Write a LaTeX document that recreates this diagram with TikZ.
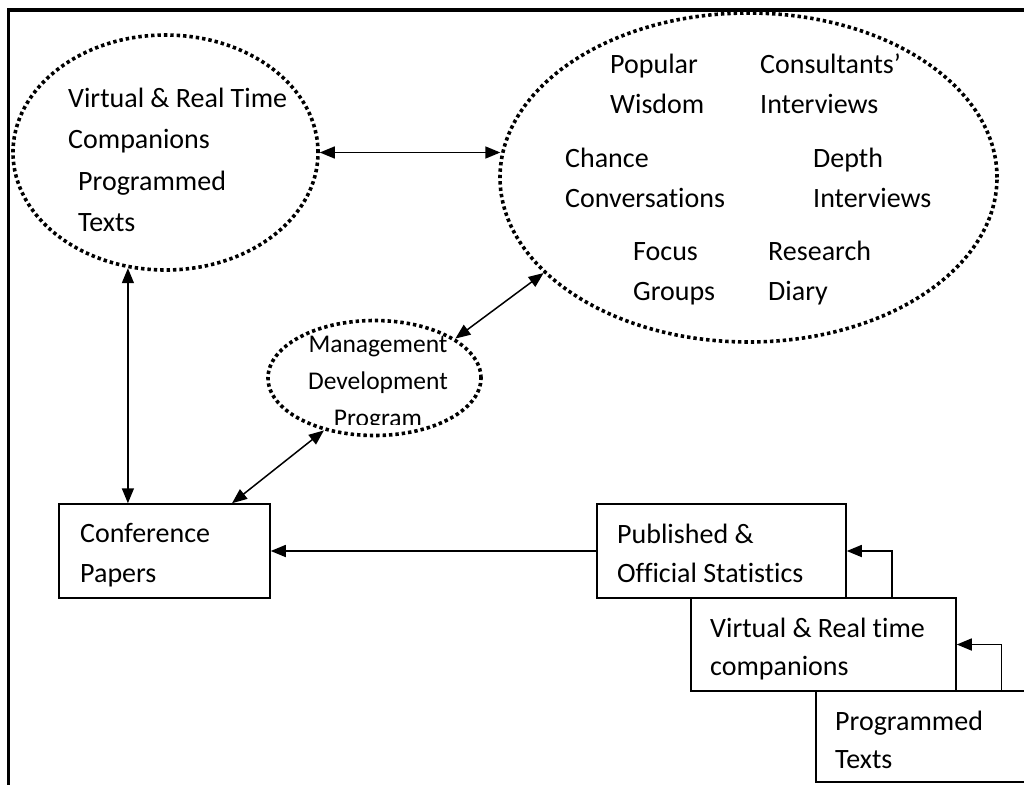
\documentclass[tikz,border=0pt]{standalone}
\usepackage{fontspec}
\setmainfont{Carlito}[Ligatures={NoCommon}]
\usetikzlibrary{shapes.geometric,arrows.meta}
\begin{document}
\begin{tikzpicture}[x=1pt,y=-1pt,
  >={Triangle[length=15pt,width=12pt]},
  dotell/.style={ellipse, draw, line width=3.6pt, dash pattern=on 3.4pt off 3pt, inner sep=0pt},
  boxnode/.style={draw, line width=1.5pt, inner sep=0pt, fill=white},
  lbl/.style={anchor=base west, inner sep=0pt, font=\fontsize{28}{34}\selectfont},
  mlbl/.style={anchor=base, inner sep=0pt, font=\fontsize{25.5}{30}\selectfont},
  conn/.style={line width=1.5pt}
]
\useasboundingbox (0,0) rectangle (1024,784);
\clip (0,0) rectangle (1024,784);
\fill[white] (0,0) rectangle (1024,784);
% outer frame
\draw[line width=3.5pt] (8.7,10) rectangle (1040,800);

% ellipses
\node[dotell, minimum width=305pt, minimum height=235pt] (e1) at (165.5,152.5) {};
\node[dotell, minimum width=497pt, minimum height=329pt] (e2) at (748.5,177.5) {};
\node[dotell, minimum width=213pt, minimum height=115pt] (e3) at (374.5,378) {};

% texts in left ellipse
\node[lbl] (t1a) at (68,107) {Virtual \& Real Time};
\node[lbl] (t1b) at (68,148) {Companions};
\node[lbl] (t1c) at (78,190) {Programmed};
\node[lbl] (t1d) at (78,231) {Texts};

% texts in right ellipse
\node[lbl] (t2a) at (610,73) {Popular};
\node[lbl] (t2b) at (610,113) {Wisdom};
\node[lbl] (t2c) at (760,73) {Consultants’};
\node[lbl] (t2d) at (760,113) {Interviews};
\node[lbl] (t2e) at (565,167) {Chance};
\node[lbl] (t2f) at (565,207) {Conversations};
\node[lbl] (t2g) at (813,167) {Depth};
\node[lbl] (t2h) at (813,207) {Interviews};
\node[lbl] (t2i) at (633,260) {Focus};
\node[lbl] (t2j) at (633,300) {Groups};
\node[lbl] (t2k) at (768,260) {Research};
\node[lbl] (t2l) at (768,300) {Diary};

% texts in small ellipse
\node[mlbl] (t3a) at (378,352) {Management};
\node[mlbl] (t3b) at (378,389) {Development};
\begin{scope}
\clip (0,0) rectangle (1024,424.5);
\node[mlbl] (t3c) at (378,426) {Program};
\end{scope}

% boxes
\node[boxnode, minimum width=211pt, minimum height=94pt] (conf) at (164.5,551) {};
\node[boxnode, minimum width=249pt, minimum height=94pt] (pbox) at (721.5,551) {};
\node[boxnode, minimum width=265pt, minimum height=93pt] (vbox) at (823.5,644.5) {};
\node[boxnode, minimum width=224pt, minimum height=91pt] (prog) at (928,736.5) {};

\node[lbl] (c1) at (80,542) {Conference};
\node[lbl] (c2) at (80,582) {Papers};
\node[lbl] (p1) at (617,543) {Published \&};
\node[lbl] (p2) at (617,582) {Official Statistics};
\node[lbl] (v1) at (710,637) {Virtual \& Real time};
\node[lbl] (v2) at (710,675) {companions};
\node[lbl] (g1) at (835,730) {Programmed};
\node[lbl] (g2) at (835,768) {Texts};

% connectors
\draw[conn,<->] (e1.east) -- (e1.east -| e2.175);
\draw[conn,<->] (e1.252) -- (e1.252 |- conf.north);
\draw[conn,<->] (e3.26) -- (e2.205);
\draw[conn,<->] (e3.226) -- ([xshift=67.5pt]conf.north);
\draw[conn,->] (pbox.west) -- (conf.east);
\draw[conn,->] ([xshift=68.5pt]vbox.north) |- (pbox.east);
\draw[conn,->] ([xshift=186pt]prog.north west) |- (vbox.east);
\end{tikzpicture}
\end{document}
